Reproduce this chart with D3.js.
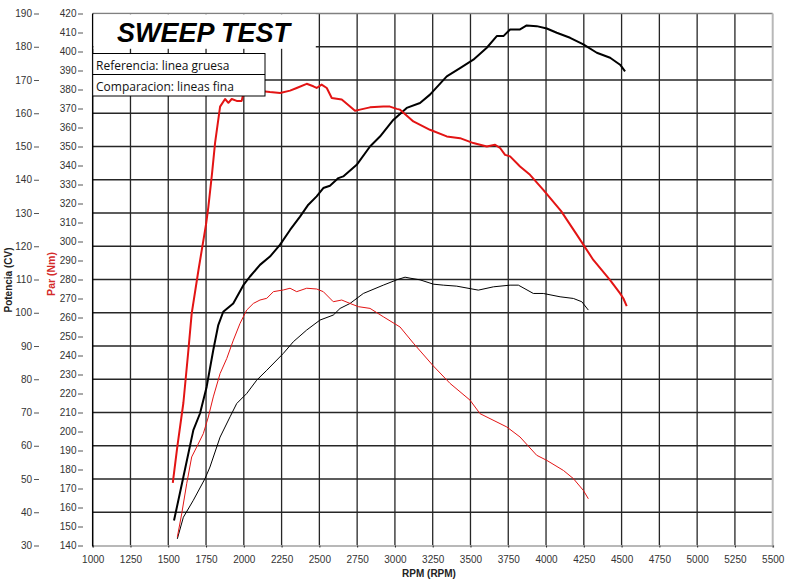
<!DOCTYPE html>
<html><head><meta charset="utf-8">
<script src="https://cdn.jsdelivr.net/npm/d3@7"></script>
<style>
html,body{margin:0;padding:0;background:#fff;}
svg{display:block;}
</style></head>
<body>
<svg id="chart" width="786" height="583"></svg>
<script>
// ---- DATA ----
const title = "SWEEP TEST";
const legendLines = ["Referencia: linea gruesa", "Comparacion: lineas fina"];
const rpmTicks = [1000,1250,1500,1750,2000,2250,2500,2750,3000,3250,3500,3750,4000,4250,4500,4750,5000,5250,5500];
const powerTicks = [30,40,50,60,70,80,90,100,110,120,130,140,150,160,170,180,190];
const torqueTicks = [140,150,160,170,180,190,200,210,220,230,240,250,260,270,280,290,300,310,320,330,340,350,360,370,380,390,400,410,420];

// Reference torque (thick red, Nm)
const refTorqueRpm = [1530,1560,1600,1630,1655,1700,1750,1765,1790,1810,1843,1876,1898,1920,1953,1986,2000,2050,2100,2141,2173,2240,2306,2350,2416,2460,2482,2515,2549,2582,2648,2703,2736,2769,2835,2923,2967,3012,3034,3122,3232,3343,3431,3519,3608,3663,3696,3729,3762,3828,3894,3982,4100,4200,4313,4424,4490,4512,4534];
const refTorque    = [173,192,215,240,262,285,309,318,336,352,371,375,373,375,374,374,379,379,379,379,378.7,378.2,379.4,380.8,383,381.7,380.8,382.6,380.8,375.5,374.7,371.1,368.8,369.4,370.6,371.1,371,369.8,369.4,363.2,358.8,355.3,354.4,351.8,350,350.9,349.2,345.6,344.8,339.5,335.1,327.2,316,304,290.3,279.7,272.7,270,266];

// Reference power (thick black, CV)
const refPowerRpm = [1538,1600,1666,1710,1754,1798,1831,1864,1930,1997,2041,2107,2173,2239,2306,2372,2427,2482,2526,2570,2626,2658,2747,2835,2901,2989,3078,3166,3232,3343,3431,3519,3608,3674,3718,3762,3828,3872,3938,4005,4071,4159,4247,4336,4424,4490,4523];
const refPower    = [37.5,50.6,64.7,69.7,77.7,88.8,96.3,100.3,102.8,108.3,110.9,114.4,116.9,120.4,124.9,128.9,132.5,135,137.5,138.2,140.5,141,144.5,150,153,158,161.6,163.1,165.6,171.1,173.6,176.1,179.7,183.2,183.2,185.2,185.2,186.4,186.2,185.5,184.2,182.7,180.7,178.2,176.7,174.6,172.6];

// Comparison power (thin black, CV)
const cmpPowerRpm = [1560,1600,1666,1743,1776,1843,1909,1953,2019,2085,2152,2262,2328,2416,2504,2592,2637,2703,2791,2923,3012,3067,3100,3166,3254,3320,3409,3552,3652,3762,3817,3916,3982,4093,4181,4237,4280];
const cmpPower    = [32,38.5,43.6,50.1,53.6,62.6,68.7,72.7,75.7,79.7,82.7,87.8,91.3,94.8,97.8,99.3,101.3,102.8,105.8,108.3,109.9,110.7,110.4,109.9,108.6,108.3,108.0,106.8,107.8,108.3,108.3,105.8,105.8,104.8,104.3,103.3,100.8];

// Comparison torque (thin red, Nm)
const cmpTorqueRpm = [1560,1589,1622,1655,1688,1732,1765,1798,1843,1887,1931,1975,2019,2063,2107,2152,2196,2262,2306,2350,2416,2482,2526,2592,2648,2703,2758,2835,2923,3034,3122,3254,3365,3497,3563,3740,3828,3938,4005,4115,4181,4247,4280];
const cmpTorque    = [144.4,156.7,172.5,186.6,191.8,198.9,207.6,218.2,230.5,238.4,248.1,256.9,263.9,267.4,269.2,270.1,273.6,274.5,275.4,273.6,275.4,275,273.6,268.3,269.2,267.4,265.7,264.8,260.4,255,246.5,234.5,225.3,216.5,209.4,202.4,197.1,187.5,184.8,179.5,175.2,169,164.6];

// ---- DRAW ----
const svg = d3.select("#chart");
const L = 92.7, R = 772.7, T = 13.5, B = 545.5;
const RED = "#e31414";
const FONT = "'Liberation Sans', Arial, sans-serif";

const x = d3.scaleLinear().domain([1000,5500]).range([L,R]);
const yP = d3.scaleLinear().domain([30,190]).range([B,T]);
const yT = d3.scaleLinear().domain([140,420]).range([B,T]);

// grid
const grid = svg.append("g");
grid.selectAll("line.v").data(rpmTicks.filter(d => d>1000 && d<5500)).join("line")
  .attr("x1", d => x(d)).attr("x2", d => x(d)).attr("y1", T).attr("y2", B)
  .attr("stroke", "#262626").attr("stroke-width", 1.3);
grid.selectAll("line.h").data(powerTicks.filter(d => d>30 && d<190)).join("line")
  .attr("x1", L).attr("x2", R).attr("y1", d => yP(d)).attr("y2", d => yP(d))
  .attr("stroke", "#262626").attr("stroke-width", 1.3);

// frame
svg.append("line").attr("x1", L).attr("x2", R).attr("y1", T).attr("y2", T).attr("stroke", "#808080").attr("stroke-width", 1.5);
svg.append("line").attr("x1", R).attr("x2", R).attr("y1", T).attr("y2", B).attr("stroke", "#b8b8b8").attr("stroke-width", 2);

// curves
function series(rpms, vals, yS, color, w) {
  const pts = rpms.map((r,i) => [r, vals[i]]);
  svg.append("path").datum(pts)
    .attr("fill", "none").attr("stroke", color).attr("stroke-width", w)
    .attr("stroke-linejoin", "round")
    .attr("d", d3.line().x(d => x(d[0])).y(d => yS(d[1])));
}
series(cmpPowerRpm, cmpPower, yP, "#000", 1);
series(cmpTorqueRpm, cmpTorque, yT, RED, 1);
series(refPowerRpm, refPower, yP, "#000", 2);
series(refTorqueRpm, refTorque, yT, RED, 2);

// x axis
const xAxis = svg.append("g").attr("transform", `translate(0,${B})`)
  .call(d3.axisBottom(x).tickValues(rpmTicks).tickSize(2).tickPadding(8).tickFormat(d3.format("d")));
xAxis.select(".domain").attr("stroke", "#b8b8b8").attr("stroke-width", 2);
xAxis.selectAll(".tick line").attr("stroke", "#222");
xAxis.selectAll("text").attr("font-family", FONT).attr("font-size", 10).attr("fill", "#333");

// left axis line
svg.append("line").attr("x1", L).attr("x2", L).attr("y1", T).attr("y2", B+1).attr("stroke", "#000").attr("stroke-width", 1.5);

// power axis
const pAxis = svg.append("g").attr("transform", "translate(39,0)")
  .call(d3.axisLeft(yP).tickValues(powerTicks).tickSize(5).tickPadding(2).tickFormat(d3.format("d")));
pAxis.select(".domain").remove();
pAxis.selectAll(".tick line").attr("stroke", "#555");
pAxis.selectAll("text").attr("font-family", FONT).attr("font-size", 10).attr("fill", "#333");

// torque axis
const tAxis = svg.append("g").attr("transform", "translate(83,0)")
  .call(d3.axisLeft(yT).tickValues(torqueTicks).tickSize(5).tickPadding(1.5).tickFormat(d3.format("d")));
tAxis.select(".domain").remove();
tAxis.selectAll(".tick line").attr("stroke", "#555");
tAxis.selectAll("text").attr("font-family", FONT).attr("font-size", 10).attr("fill", "#333");

// axis titles
svg.append("text").attr("transform", "translate(12,280) rotate(-90)")
  .attr("text-anchor", "middle").attr("font-family", FONT).attr("font-size", 10).attr("font-weight", "bold")
  .attr("fill", "#222").text("Potencia (CV)");
svg.append("text").attr("transform", "translate(55,274) rotate(-90)")
  .attr("text-anchor", "middle").attr("font-family", FONT).attr("font-size", 10.5).attr("font-weight", "bold")
  .attr("fill", "#d42a2a").text("Par (Nm)");
svg.append("text").attr("x", 429).attr("y", 577)
  .attr("text-anchor", "middle").attr("font-family", FONT).attr("font-size", 10).attr("font-weight", "bold")
  .attr("fill", "#222").text("RPM (RPM)");

// title box
svg.append("rect").attr("x", L+0.8).attr("y", T+0.8).attr("width", 315-L).attr("height", 48-T).attr("fill", "#fff");
svg.append("text").attr("x", 117).attr("y", 41.5)
  .attr("font-family", FONT).attr("font-size", 27).attr("font-weight", "bold").attr("font-style", "italic")
  .attr("fill", "#000").text(title);

// legend box
const lg = svg.append("g");
lg.append("rect").attr("x", L).attr("y", 53.5).attr("width", 265-L).attr("height", 42.5)
  .attr("fill", "#fff").attr("stroke", "#000").attr("stroke-width", 1);
lg.append("line").attr("x1", L).attr("x2", 265).attr("y1", 74.5).attr("y2", 74.5).attr("stroke", "#000").attr("stroke-width", 1);
lg.selectAll("text").data(legendLines).join("text")
  .attr("x", 96).attr("y", (d,i) => 69.5 + i*21.5)
  .attr("font-family", "'Open Sans', 'Noto Sans', sans-serif").attr("font-size", 12)
  .attr("fill", "#111").text(d => d);
</script>
</body></html>
